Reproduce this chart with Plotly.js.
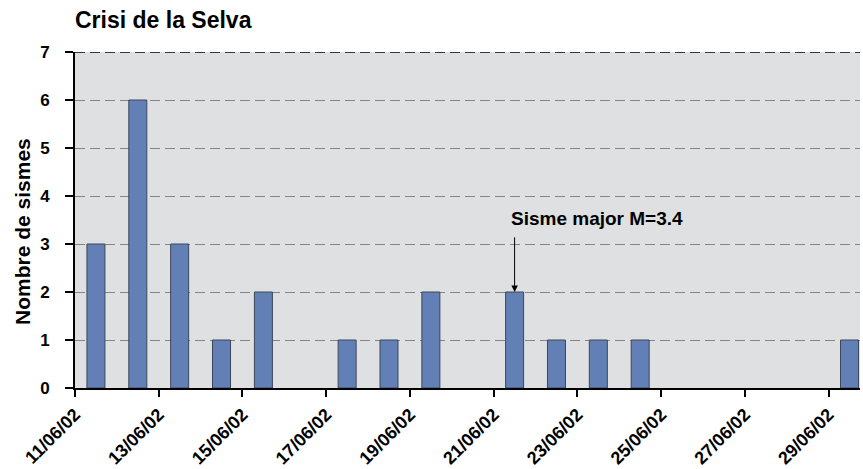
<!DOCTYPE html>
<html><head><meta charset="utf-8">
<script src="https://cdn.plot.ly/plotly-3.0.1.min.js"></script>
<style>body{margin:0;background:#fff}#c{width:863px;height:469px}</style>
</head><body><div id="c"></div>
<script>
// day index 0 = 11/06/02
const dayIndex = [0,1,2,3,4,5,6,7,8,9,10,11,12,13,14,15,16,17,18];
const counts   = [3,6,3,1,2,0,1,1,2,0,2,1,1,1,0,0,0,0,1];
const tickIdx  = [0,2,4,6,8,10,12,14,16,18];
const tickLabels = ['11/06/02','13/06/02','15/06/02','17/06/02','19/06/02','21/06/02','23/06/02','25/06/02','27/06/02','29/06/02'];
const yTicks = [0,1,2,3,4,5,6,7];

const F = 'Liberation Sans, Arial, sans-serif';
const trace = {
  type:'bar',
  x: dayIndex.map(d=>d+0.5),
  y: counts,
  width: 0.43,
  marker:{color:'#6380b6', line:{color:'#3c4658', width:counts.map(c=>c>0?1:0)}},
  hoverinfo:'none'
};
const layout = {
  width:863, height:469,
  margin:{l:75, r:3, t:52, b:81},
  paper_bgcolor:'#fff', plot_bgcolor:'#dfe0e2',
  showlegend:false,
  title:{text:'<b>Crisi de la Selva</b>', x:75/863, xanchor:'left', y:1-20/469, yanchor:'middle', font:{family:F, size:23, color:'#000'}},
  xaxis:{range:[0,18.75], tickvals:tickIdx, ticktext:tickLabels, tickangle:-45,
    showline:true, linecolor:'#000', linewidth:2, ticks:'outside', ticklen:7, tickwidth:2, tickcolor:'#000',
    showgrid:false, zeroline:false,
    tickfont:{family:F, size:18, color:'#000', weight:'bold'}},
  yaxis:{range:[0,7], tickvals:yTicks, showline:true, linecolor:'#000', linewidth:2,
    ticks:'outside', ticklen:8, tickwidth:1.5, tickcolor:'#000',
    showgrid:true, gridcolor:'#858585', gridwidth:1, griddash:'10px,5px', zeroline:false,
    ticklabelstandoff:12,
    tickfont:{family:F, size:17, color:'#000', weight:'bold'}},
  shapes:[{type:'line', xref:'paper', yref:'y', x0:0, x1:1, y0:7, y1:7, line:{color:'#000', width:1.5, dash:'10px,5px'}}],
  annotations:[
    {x:10.36, y:3.54, xref:'x', yref:'y', xanchor:'left', yanchor:'middle', showarrow:false,
     text:'<b>Sisme major M=3.4</b>', font:{family:F, size:19, color:'#000'}},
    {x:10.5, y:2, xref:'x', yref:'y', ax:10.5, ay:3.17, axref:'x', ayref:'y', text:'', showarrow:true,
     arrowhead:2, arrowsize:1.3, arrowwidth:1, arrowcolor:'#000'},
    {x:(22-75)/785, y:(388-232)/336, xref:'paper', yref:'paper', xanchor:'center', yanchor:'middle', showarrow:false,
     textangle:-90, text:'<b>Nombre de sismes</b>', font:{family:F, size:21, color:'#000'}}
  ]
};
Plotly.newPlot('c',[trace],layout,{staticPlot:true});
</script></body></html>
